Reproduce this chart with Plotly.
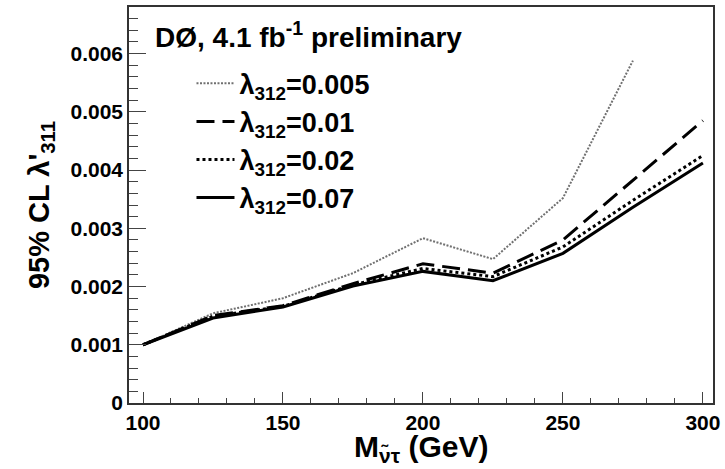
import plotly.graph_objects as go

# Slepton (tau sneutrino) mass points, GeV
mass = [100, 125, 150, 175, 200, 225, 250, 275, 300]

# 95% CL upper limits on lambda'_311 for several lambda_312 couplings
lim_0005 = [0.00100, 0.00154, 0.00180, 0.00223, 0.00283, 0.00247, 0.00352, 0.00588]
lim_001 = [0.00100, 0.00150, 0.00167, 0.00205, 0.00239, 0.00223, 0.00280, 0.00382, 0.00485]
lim_002 = [0.00100, 0.00149, 0.00166, 0.00203, 0.00231, 0.00217, 0.00268, 0.00348, 0.00425]
lim_007 = [0.00100, 0.00146, 0.00165, 0.00201, 0.00226, 0.00210, 0.00257, 0.00336, 0.00412]

labels = ["0.005", "0.01", "0.02", "0.07"]

FONT = "Liberation Sans, Arial, sans-serif"

styles = [
    dict(color="#707070", width=2, dash="2px,1.5px"),
    dict(color="black", width=3, dash="18px,8px"),
    dict(color="black", width=3, dash="3px,3px"),
    dict(color="black", width=3, dash="solid"),
]

fig = go.Figure()
for ys, lab, st in zip([lim_0005, lim_001, lim_002, lim_007], labels, styles):
    fig.add_trace(go.Scatter(
        x=mass[:len(ys)], y=ys, mode="lines",
        line=st,
        name=f"λ<sub>312</sub>=<b>{lab}</b>",
    ))

fig.update_layout(
    width=725, height=469,
    margin=dict(l=129, r=12, t=7, b=66),
    paper_bgcolor="white", plot_bgcolor="white",
    font=dict(family=FONT, color="black"),
    showlegend=True,
    legend=dict(
        x=0.107, y=0.868, xanchor="left", yanchor="top",
        bgcolor="rgba(0,0,0,0)",
        font=dict(family=FONT, size=27, color="black", weight="bold"),
        itemwidth=38,
    ),
    annotations=[
        dict(
            text="<b>DØ, 4.1 fb<sup>-1</sup> preliminary</b>",
            xref="paper", yref="paper", x=0.041, y=0.93,
            xanchor="left", yanchor="middle", showarrow=False,
            font=dict(family=FONT, size=28, color="black"),
        ),
        # x-axis title
        dict(
            text="<b>M<sub>ν̃τ</sub> (GeV)</b>",
            xref="paper", yref="paper", x=0.5, y=-0.062,
            xanchor="center", yanchor="top", showarrow=False,
            font=dict(family=FONT, size=30, color="black"),
        ),
    ],
)

fig.update_xaxes(
    range=[95, 303.6],
    automargin=False,
    tick0=100, dtick=50,
    ticks="inside", ticklen=11, tickwidth=1.2, tickcolor="#444",
    minor=dict(ticks="inside", ticklen=5, dtick=10, tick0=100, tickcolor="#444", tickwidth=1),
    showgrid=False, zeroline=False,
    showline=True, linecolor="#333", linewidth=1.5, mirror=True,
    tickfont=dict(family=FONT, size=21, color="black", weight="bold"),
)

fig.update_yaxes(
    range=[0, 0.0068],
    automargin=False,
    tick0=0, dtick=0.001,
    ticks="inside", ticklen=17, tickwidth=1.2, tickcolor="#444",
    minor=dict(ticks="inside", ticklen=9, dtick=0.0002, tick0=0, tickcolor="#444", tickwidth=1),
    showgrid=False, zeroline=False,
    showline=True, linecolor="#333", linewidth=1.5, mirror=True,
    tickfont=dict(family=FONT, size=21, color="black", weight="bold"),
    title=dict(text="<b>95% CL λ'<sub>311</sub></b>",
               font=dict(family=FONT, size=29, color="black"), standoff=12),
)

fig.write_html("out.html")
